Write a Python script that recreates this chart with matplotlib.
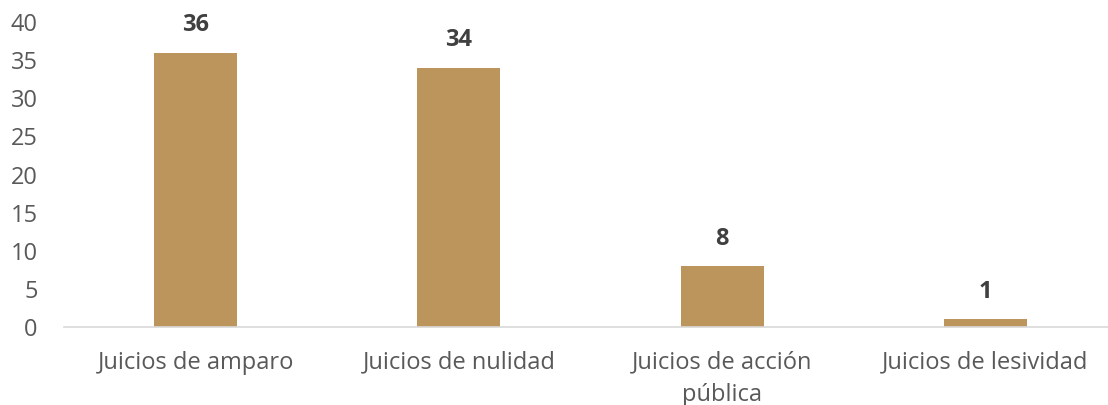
import matplotlib
matplotlib.use("Agg")
import matplotlib.pyplot as plt

categories = ["Juicios de amparo", "Juicios de nulidad", "Juicios de acción\npública", "Juicios de lesividad"]
values = [36, 34, 8, 1]

plt.rcParams["font.family"] = ["Open Sans", "DejaVu Sans"]

fig = plt.figure(figsize=(11.08, 4.05), dpi=100)
ax = fig.add_axes([64 / 1108, 78 / 405, 1044 / 1108, 305 / 405])

x = range(len(categories))
bars = ax.bar(x, values, width=0.315, color="#BC955C")

for b, v in zip(bars, values):
    ax.text(b.get_x() + b.get_width() / 2, v + 2.0, str(v), ha="center", va="bottom",
            fontsize=17, fontweight="bold", color="#404040")

ax.set_xlim(-0.5, 3.466)
ax.set_ylim(0, 40)
ax.set_yticks(range(0, 41, 5))
ax.set_xticks(list(x))
ax.set_xticklabels(categories, fontsize=17, color="#595959", linespacing=1.45)
ax.tick_params(axis="y", labelsize=17, labelcolor="#595959", length=0, pad=19)
ax.tick_params(axis="x", length=0, pad=17)
for s in ["top", "right", "left"]:
    ax.spines[s].set_visible(False)
ax.spines["bottom"].set_color("#D9D9D9")
ax.spines["bottom"].set_linewidth(1.2)

fig.savefig("out.png", dpi=100)
